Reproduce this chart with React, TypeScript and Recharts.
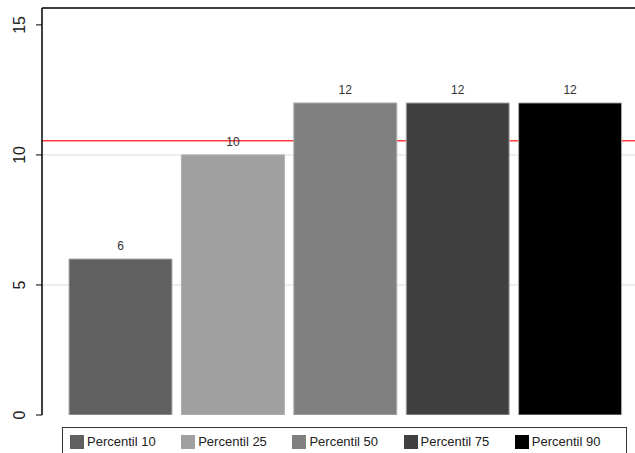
import React from "react";
import {
  BarChart,
  Bar,
  XAxis,
  YAxis,
  CartesianGrid,
  ReferenceLine,
  LabelList,
  Cell,
} from "recharts";

const categories = ["Percentil 10", "Percentil 25", "Percentil 50", "Percentil 75", "Percentil 90"];
const values = [6, 10, 12, 12, 12];
const colors = ["#606060", "#a0a0a0", "#808080", "#404040", "#000000"];
const yTicks = [0, 5, 10, 15];
const yMax = 15.65;
const referenceValue = 10.55;

const data = categories.map((name, i) => ({ name, value: values[i], color: colors[i] }));

function YTick(props: any) {
  const { x, y, payload } = props;
  return (
    <text
      x={x - 9}
      y={y}
      transform={`rotate(-90, ${x - 9}, ${y})`}
      textAnchor="middle"
      fontSize={16}
      fontFamily="Liberation Sans, Arial, sans-serif"
      fill="#222"
    >
      {payload.value}
    </text>
  );
}

function LegendBox() {
  return (
    <div
      style={{
        position: "absolute",
        left: 62,
        top: 427,
        width: 565,
        height: 40,
        display: "flex",
        alignItems: "flex-start",
        border: "1.5px solid #333",
        boxSizing: "border-box",
        paddingLeft: 7,
        paddingTop: 6,
        fontFamily: "Liberation Sans, Arial, sans-serif",
        fontSize: 13,
        color: "#222",
      }}
    >
      {categories.map((c, i) => (
        <div key={c} style={{ display: "flex", alignItems: "center", width: 115 }}>
          <span
            style={{
              display: "inline-block",
              width: 14,
              height: 14,
              background: colors[i],
              marginRight: 3,
            }}
          />
          <span>{c}</span>
        </div>
      ))}
    </div>
  );
}

export default function App() {
  return (
    <div
      style={{
        position: "absolute",
        left: 0,
        top: 0,
        width: 635,
        height: 453,
        overflow: "hidden",
        background: "#fff",
      }}
    >
      <BarChart
        width={635}
        height={453}
        data={data}
        margin={{ top: 8, right: 0, left: 0, bottom: 38 }}
      >
        <CartesianGrid vertical={false} horizontalValues={[5, 10]} stroke="#dcdcdc" />
        <CartesianGrid vertical={false} horizontalValues={[referenceValue]} stroke="#ff3b3b" strokeWidth={1.5} />
        <XAxis
          dataKey="name"
          height={0}
          tick={false}
          tickLine={false}
          axisLine={{ stroke: "#000", strokeWidth: 2 }}
          padding={{ left: 22, right: 9 }}
        />
        <YAxis
          width={42}
          domain={[0, yMax]}
          ticks={yTicks}
          allowDataOverflow
          tick={<YTick />}
          tickSize={6}
          tickLine={{ stroke: "#000" }}
          axisLine={{ stroke: "#000", strokeWidth: 1.5 }}
        />
        <ReferenceLine y={yMax} stroke="#000" strokeWidth={1.5} />
        <Bar dataKey="value" barSize={103} isAnimationActive={false} stroke="#b0b0b0" strokeWidth={1}>
          {data.map((d, i) => (
            <Cell key={`c-${i}`} fill={d.color} />
          ))}
          <LabelList
            dataKey="value"
            position="top"
            offset={9}
            fontSize={12}
            fontFamily="Liberation Sans, Arial, sans-serif"
            fill="#333"
          />
        </Bar>
      </BarChart>
      <LegendBox />
    </div>
  );
}
